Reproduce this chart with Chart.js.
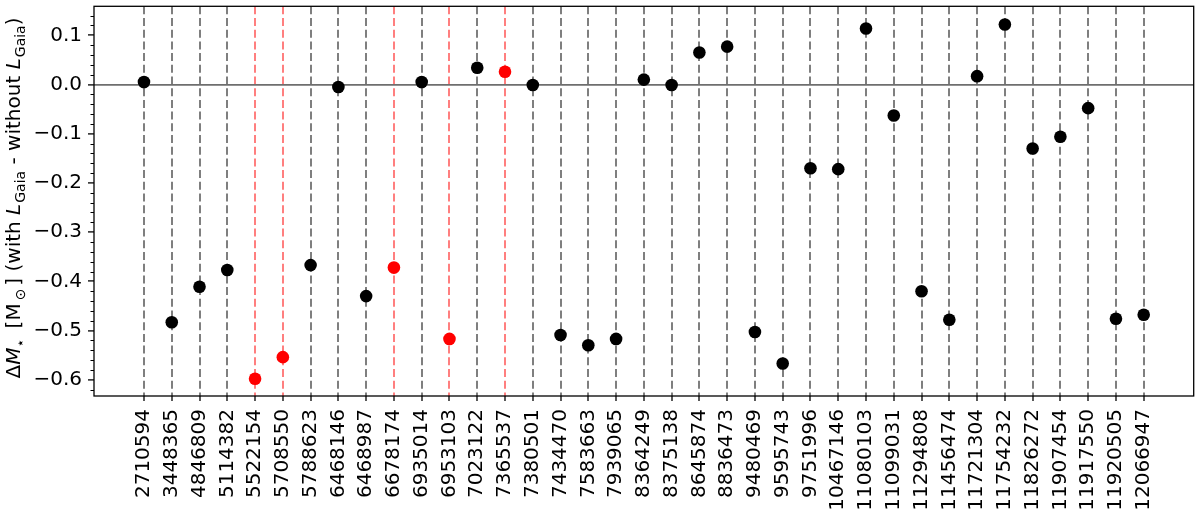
<!DOCTYPE html>
<html>
<head>
<meta charset="utf-8">
<script src="https://cdn.jsdelivr.net/npm/chart.js@4/dist/chart.umd.min.js"></script>
<style>
  html, body { margin: 0; padding: 0; background: #fff; }
</style>
</head>
<body>
<canvas id="chartDeltaM" width="1200" height="523"></canvas>
<script>
// Étoiles (identifiants KIC) dans l'ordre de l'axe x
var kics = [
    '2710594', '3448365', '4846809', '5114382', '5522154', '5708550', '5788623',
    '6468146', '6468987', '6678174', '6935014', '6953103', '7023122', '7365537',
    '7380501', '7434470', '7583663', '7939065', '8364249', '8375138', '8645874',
    '8836473', '9480469', '9595743', '9751996', '10467146', '11080103', '11099031',
    '11294808', '11456474', '11721304', '11754232', '11826272', '11907454',
    '11917550', '11920505', '12066947'
];

// Delta M (avec L_Gaia - sans L_Gaia), en masses solaires
var deltaM = [
    0.005, -0.483, -0.411, -0.377, -0.598, -0.554, -0.367,
    -0.005, -0.430, -0.372, 0.005, -0.517, 0.034, 0.026,
    -0.001, -0.509, -0.530, -0.517, 0.010, -0.001, 0.065,
    0.077, -0.503, -0.567, -0.170, -0.172, 0.114, -0.063,
    -0.420, -0.478, 0.017, 0.122, -0.130, -0.106,
    -0.048, -0.476, -0.468
];

// Étoiles marquées en rouge
var redStars = ['5522154', '5708550', '6678174', '6953103', '7365537'];

// Graduations de l'axe y
var yTicks = [0.1, 0.0, -0.1, -0.2, -0.3, -0.4, -0.5, -0.6];
var yMinorStep = 0.02;
var yMin = -0.633, yMax = 0.159;

var FONT = 'DejaVu Sans';

function isRed(i) { return redStars.indexOf(kics[i]) !== -1; }

function fmtTick(v) {
    return v.toFixed(1).replace('-', '\u2212');
}

// Titre de l'axe y avec italiques et indices (façon mathtext)
var titleParts = [
    { t: '\u0394', s: 'n' },
    { t: 'M', s: 'i' },
    { t: '\u22C6', s: 's', gap: 4 },
    { t: ' [M', s: 'n', gap: 3 },
    { t: '\u2299', s: 's', gap: 3 },
    { t: '] (with ', s: 'n' },
    { t: 'L', s: 'i', gap: 1 },
    { t: 'Gaia', s: 's' },
    { t: ' - without ', s: 'n' },
    { t: 'L', s: 'i', gap: 1 },
    { t: 'Gaia', s: 's' },
    { t: ')', s: 'n' }
];

function partFont(s) {
    if (s === 'i') { return 'italic 20px "' + FONT + '"'; }
    if (s === 's') { return '14px "' + FONT + '"'; }
    return '20px "' + FONT + '"';
}

var decorPlugin = {
    id: 'decor',
    afterDraw: function (chart) {
        var ctx = chart.ctx;
        var a = chart.chartArea;
        var ys = chart.scales.y;

        ctx.save();
        // Cadre
        ctx.strokeStyle = '#000';
        ctx.lineWidth = 1.3;
        ctx.strokeRect(a.left, a.top, a.right - a.left, a.bottom - a.top);

        // Graduations mineures
        ctx.lineWidth = 1;
        var n0 = Math.ceil(yMin / yMinorStep), n1 = Math.floor(yMax / yMinorStep);
        for (var k = n0; k <= n1; k++) {
            if (k % 5 === 0) { continue; }
            var py = Math.round(ys.getPixelForValue(k * yMinorStep)) + 0.5;
            ctx.beginPath();
            ctx.moveTo(a.left - 3.5, py);
            ctx.lineTo(a.left, py);
            ctx.stroke();
        }

        // Titre y
        ctx.fillStyle = '#000';
        ctx.textBaseline = 'alphabetic';
        ctx.textAlign = 'left';
        var total = 0;
        titleParts.forEach(function (p) {
            ctx.font = partFont(p.s);
            p.w = ctx.measureText(p.t).width + (p.gap || 0);
            total += p.w;
        });
        ctx.translate(20, 198);
        ctx.rotate(-Math.PI / 2);
        var x = -total / 2;
        titleParts.forEach(function (p) {
            ctx.font = partFont(p.s);
            ctx.fillText(p.t, x, p.s === 's' ? 4.5 : 0);
            x += p.w;
        });
        ctx.restore();
    }
};

var ctx = document.getElementById('chartDeltaM').getContext('2d');

new Chart(ctx, {
    type: 'scatter',
    data: {
        datasets: [{
            data: kics.map(function (k, i) { return { x: i, y: deltaM[i] }; }),
            backgroundColor: kics.map(function (k, i) { return isRed(i) ? '#ff0000' : '#000000'; }),
            borderWidth: 0,
            pointRadius: 6.3,
            pointHoverRadius: 6.3
        }]
    },
    options: {
        responsive: false,
        animation: false,
        devicePixelRatio: 1,
        layout: { padding: { top: 4, right: 4, left: 0, bottom: 0 } },
        plugins: {
            legend: { display: false },
            tooltip: { enabled: false }
        },
        scales: {
            x: {
                type: 'linear',
                min: -1.8,
                max: 37.8,
                afterBuildTicks: function (s) {
                    s.ticks = kics.map(function (k, i) { return { value: i }; });
                },
                afterFit: function (s) {
                    s.height = 127;
                    s.paddingLeft = 0;
                    s.paddingRight = 0;
                },
                ticks: {
                    autoSkip: false,
                    minRotation: 90,
                    maxRotation: 90,
                    padding: 8,
                    color: '#000',
                    font: { family: FONT, size: 20 },
                    callback: function (v) { return kics[v]; }
                },
                grid: {
                    color: function (c) {
                        return isRed(c.index) ? 'rgba(255,0,0,0.5)' : 'rgba(0,0,0,0.5)';
                    },
                    lineWidth: 2,
                    drawTicks: true,
                    tickLength: 5,
                    tickColor: '#000',
                    tickWidth: 1.3
                },
                border: { display: false, dash: [8, 3.7] }
            },
            y: {
                min: yMin,
                max: yMax,
                afterBuildTicks: function (s) {
                    s.ticks = yTicks.map(function (v) { return { value: v }; });
                },
                afterFit: function (s) {
                    s.width = 94;
                    s.paddingTop = 0;
                    s.paddingBottom = 0;
                },
                ticks: {
                    padding: 6,
                    color: '#000',
                    font: { family: FONT, size: 20 },
                    callback: function (v) { return fmtTick(v); }
                },
                grid: {
                    color: function (c) {
                        return c.tick && c.tick.value === 0 ? '#6e6e6e' : 'rgba(0,0,0,0)';
                    },
                    lineWidth: 1.8,
                    drawTicks: true,
                    tickLength: 6,
                    tickColor: '#000',
                    tickWidth: 1.3
                },
                border: { display: false }
            }
        }
    },
    plugins: [decorPlugin]
});
</script>
</body>
</html>
